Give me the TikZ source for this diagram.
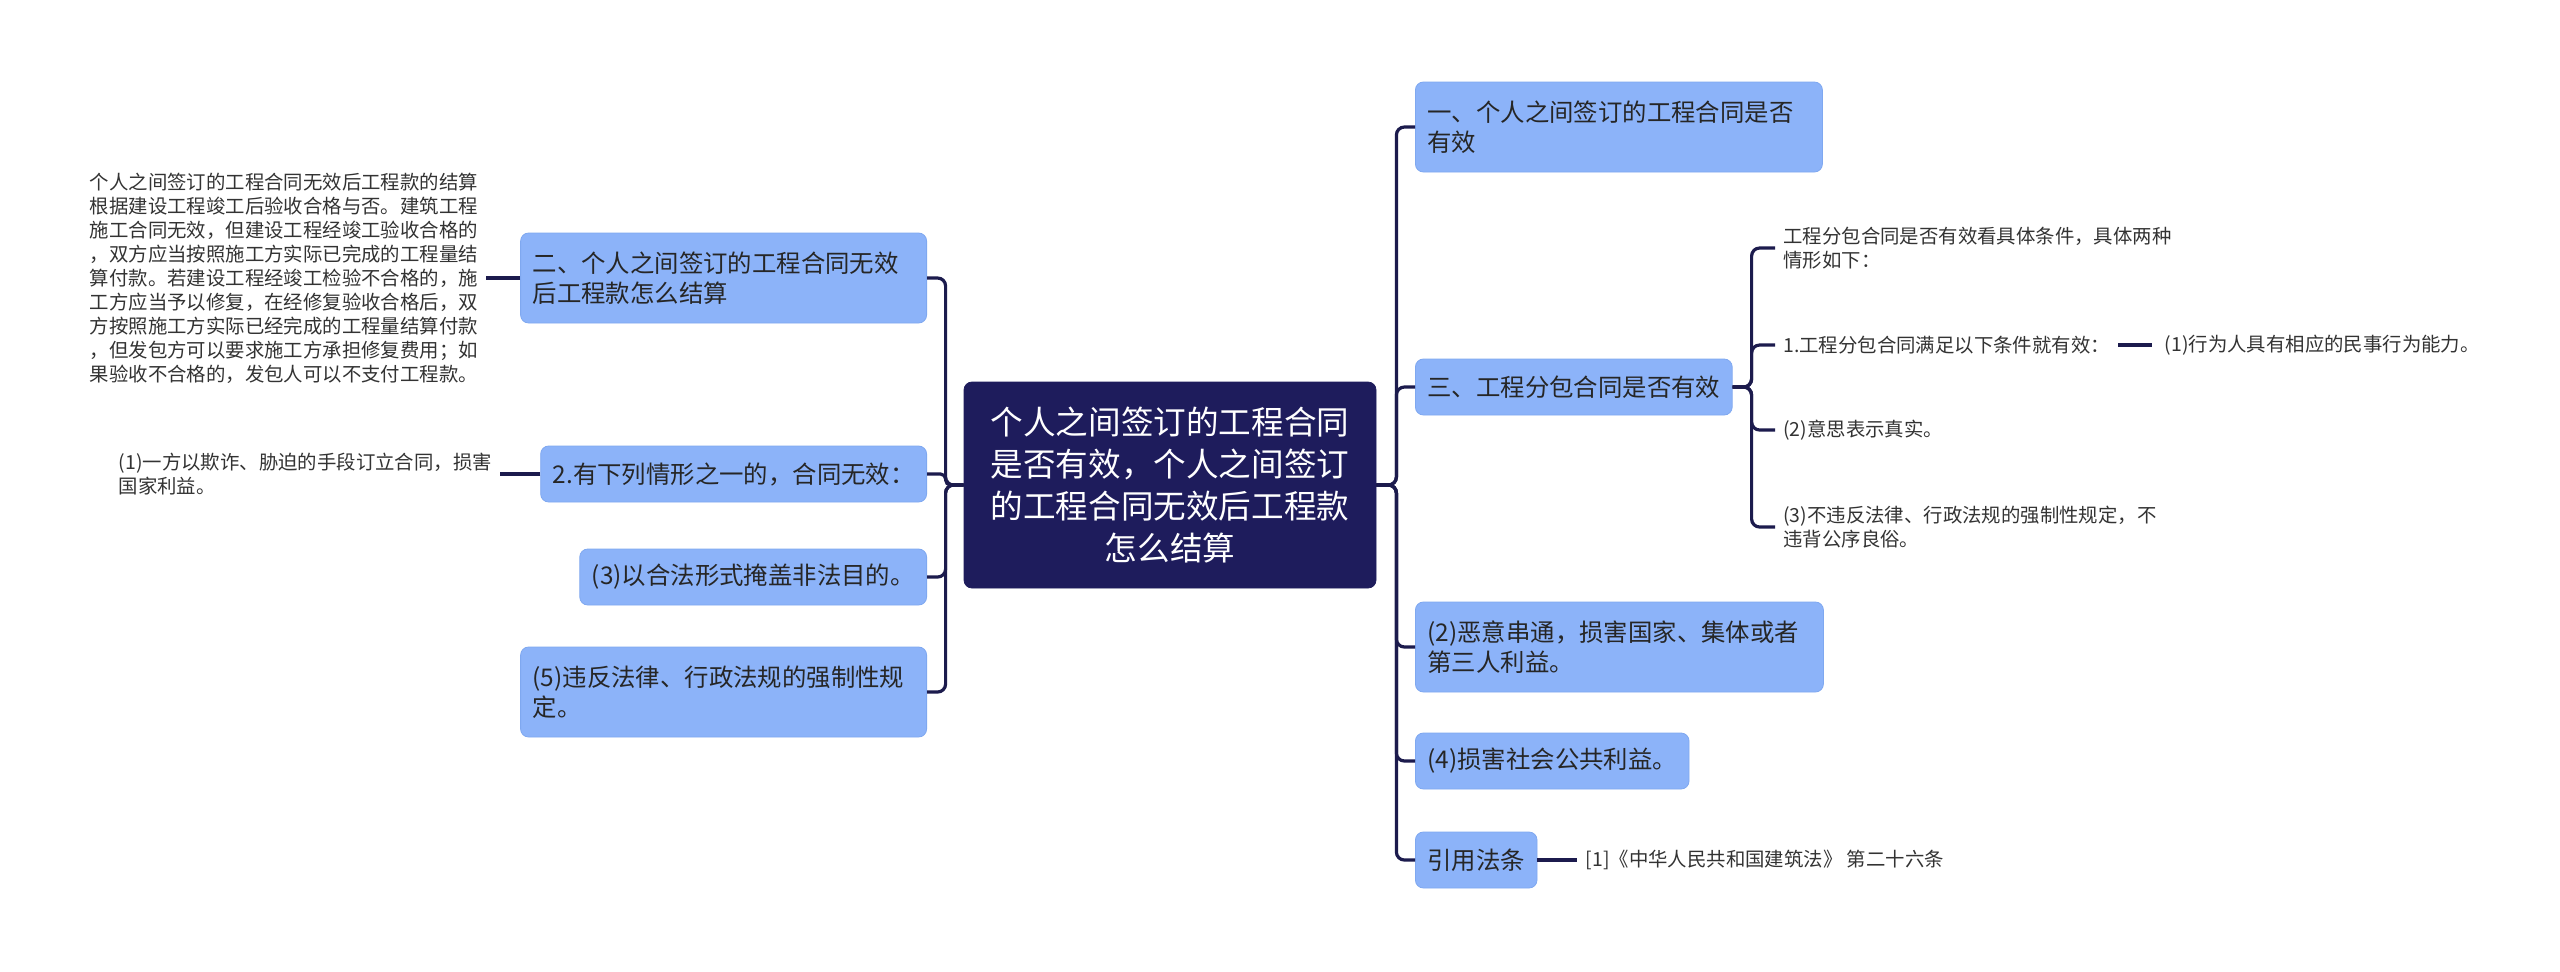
\documentclass[tikz,border=0pt]{standalone}
\usepackage{fontspec}
\setmainfont{Noto Sans CJK SC}
\usetikzlibrary{positioning}
\definecolor{hubfill}{HTML}{1E1C5C}
\definecolor{topicfill}{HTML}{8CB3F9}
\definecolor{topicedge}{HTML}{7FA8F0}
\definecolor{linkcol}{HTML}{1C1B4D}
\definecolor{leaftext}{HTML}{333333}

\begin{document}
\begin{tikzpicture}[x=0.5pt, y=-0.5pt,
    hub/.style={
        fill=hubfill,
        draw=hubfill,
        rounded corners=4pt,
        text=white,
        align=center,
        text width=182pt,
        minimum height=103pt,
        inner xsep=12pt,
        font=\fontsize{16.3}{21}\selectfont
    },
    topic/.style={
        fill=topicfill,
        draw=topicedge,
        line width=0.4pt,
        rounded corners=4pt,
        text=black!85,
        align=left,
        minimum height=28pt,
        inner xsep=6pt,
        font=\fontsize{12.2}{15}\selectfont
    },
    leaf/.style={
        text=leaftext,
        align=left,
        inner xsep=4pt,
        inner ysep=2pt,
        font=\fontsize{9.7}{12}\selectfont
    },
    link/.style={draw=linkcol, line width=1.6pt, rounded corners=4pt}
]
\path[use as bounding box, fill=white] (0,0) rectangle (2560,971);

\node[hub] (hub) at (1170,485) {个人之间签订的工程合同\\是否有效，个人之间签订\\的工程合同无效后工程款\\怎么结算};

% right side
\node[topic, anchor=west, text width=191.5pt, minimum height=45pt] (r1) at (1415,127) {一、个人之间签订的工程合同是否\\有效};
\node[topic, anchor=west] (r2) at (1415,387) {三、工程分包合同是否有效};
\node[topic, anchor=west, text width=192pt, minimum height=45pt] (r3) at (1415,647) {(2)恶意串通，损害国家、集体或者\\第三人利益。};
\node[topic, anchor=west] (r4) at (1415,761) {(4)损害社会公共利益。};
\node[topic, anchor=west] (r5) at (1415,860) {引用法条};

\node[leaf, anchor=west] (s1) at (1775,248) {工程分包合同是否有效看具体条件，具体两种\\情形如下：};
\node[leaf, anchor=west] (s2) at (1775,345) {1.工程分包合同满足以下条件就有效：};
\node[leaf, right=19pt of s2] (s21) {(1)行为人具有相应的民事行为能力。};
\node[leaf, anchor=west] (s3) at (1775,430) {(2)意思表示真实。};
\node[leaf, anchor=west] (s4) at (1775,527) {(3)不违反法律、行政法规的强制性规定，不\\违背公序良俗。};
\node[leaf, right=20pt of r5] (r51) {[1]《中华人民共和国建筑法》 第二十六条};

% left side
\node[topic, anchor=east, text width=191pt, minimum height=45pt] (l1) at (927,278) {二、个人之间签订的工程合同无效\\后工程款怎么结算};
\node[topic, anchor=east] (l2) at (927,474) {2.有下列情形之一的，合同无效：};
\node[topic, anchor=east] (l3) at (927,577) {(3)以合法形式掩盖非法目的。};
\node[topic, anchor=east, text width=191pt, minimum height=45pt] (l4) at (927,692) {(5)违反法律、行政法规的强制性规\\定。};

\node[leaf, left=17pt of l1] (t1) {个人之间签订的工程合同无效后工程款的结算\\根据建设工程竣工后验收合格与否。建筑工程\\施工合同无效，但建设工程经竣工验收合格的\\，双方应当按照施工方实际已完成的工程量结\\算付款。若建设工程经竣工检验不合格的，施\\工方应当予以修复，在经修复验收合格后，双\\方按照施工方实际已经完成的工程量结算付款\\，但发包方可以要求施工方承担修复费用；如\\果验收不合格的，发包人可以不支付工程款。};
\node[leaf, left=20pt of l2] (t2) {(1)一方以欺诈、胁迫的手段订立合同，损害\\国家利益。};

\draw[link] (hub.east) -- ++(20,0) |- (r1.west);
\draw[link] (hub.east) -- ++(20,0) |- (r2.west);
\draw[link] (hub.east) -- ++(20,0) |- (r3.west);
\draw[link] (hub.east) -- ++(20,0) |- (r4.west);
\draw[link] (hub.east) -- ++(20,0) |- (r5.west);

\draw[link] (r2.east) -- ++(19,0) |- (s1.west);
\draw[link] (r2.east) -- ++(19,0) |- (s2.west);
\draw[link] (r2.east) -- ++(19,0) |- (s3.west);
\draw[link] (r2.east) -- ++(19,0) |- (s4.west);
\draw[link, shorten >=2pt] (s2) -- (s21);
\draw[link] (r5) -- (r51);

\draw[link] (hub.west) -- ++(-18,0) |- (l1.east);
\draw[link, rounded corners=2.5pt] (hub.west) -- ++(-18,0) |- (l2.east);
\draw[link] (hub.west) -- ++(-18,0) |- (l3.east);
\draw[link] (hub.west) -- ++(-18,0) |- (l4.east);
\draw[link] (l1) -- (t1);
\draw[link] (l2) -- (t2);
\end{tikzpicture}
\end{document}
